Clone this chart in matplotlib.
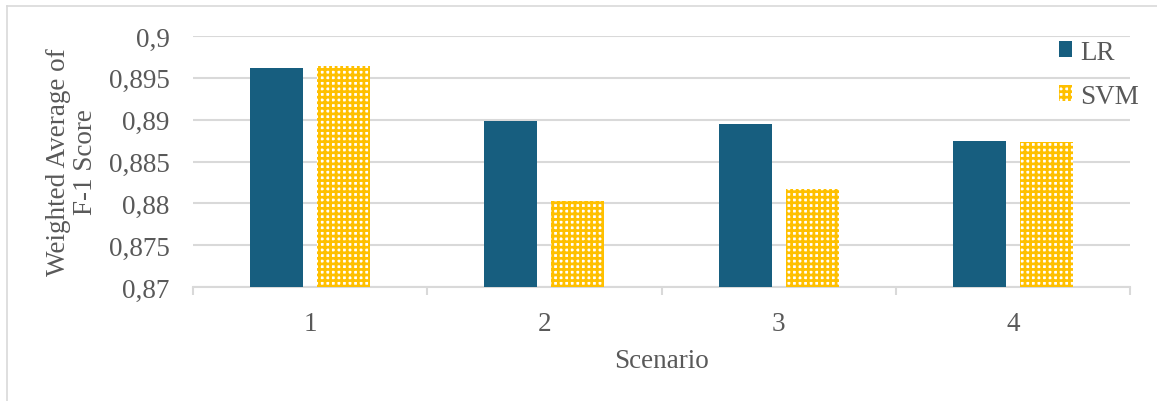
import matplotlib.pyplot as plt
import numpy as np
from matplotlib.lines import Line2D

# Data
scenarios = ["1", "2", "3", "4"]
lr_scores = [0.8962, 0.8898, 0.8895, 0.8875]
svm_scores = [0.8964, 0.8803, 0.8817, 0.8873]
y_ticks = [0.87, 0.875, 0.88, 0.885, 0.89, 0.895, 0.9]
y_tick_labels = ["0,87", "0,875", "0,88", "0,885", "0,89", "0,895", "0,9"]

TEXT = '#595959'
GRID = '#D9D9D9'
LR_COLOR = '#175E7F'
SVM_COLOR = '#FFC000'
FS = 19.5

plt.rcParams['font.family'] = ['Liberation Serif', 'DejaVu Serif']
plt.rcParams['hatch.linewidth'] = 2.0

fig = plt.figure(figsize=(11.57, 4.02), dpi=100)
ax = fig.add_axes([193 / 1157, 1 - 288 / 402, (1130 - 193) / 1157, (288 - 37) / 402])

x = np.arange(1, len(scenarios) + 1)
width = 0.227
offset = 0.143
ax.bar(x - offset, lr_scores, width, color=LR_COLOR, label='LR', zorder=3)
ax.bar(x + offset, svm_scores, width, color='white', edgecolor=SVM_COLOR,
       linewidth=0, hatch='+++', label='SVM', zorder=3)

ax.set_ylim(0.87, 0.9)
ax.set_xlim(0.5, 4.5)
ax.set_yticks(y_ticks)
ax.set_yticklabels(y_tick_labels)
ax.tick_params(axis='y', length=0, pad=17, labelsize=FS, labelcolor=TEXT)
ax.grid(axis='y', color=GRID, linewidth=1.5, zorder=0)

# category separators as major ticks, labels on minor ticks
ax.set_xticks(np.arange(0.5, 4.6, 1.0))
ax.set_xticklabels([])
ax.set_xticks(x, minor=True)
ax.set_xticklabels(scenarios, minor=True)
ax.tick_params(axis='x', which='major', length=6, width=1.5, color=GRID)
ax.tick_params(axis='x', which='minor', length=0, pad=17, labelsize=FS, labelcolor=TEXT)

for s in ['top', 'right', 'left']:
    ax.spines[s].set_visible(False)
ax.spines['bottom'].set_color(GRID)
ax.spines['bottom'].set_linewidth(1.5)

ax.set_xlabel('Scenario', fontsize=FS, color=TEXT, labelpad=9)
fig.text(72 / 1157, 1 - 162 / 402, 'Weighted Average of\nF-1 Score', rotation=90,
         ha='center', va='center', multialignment='center', fontsize=FS,
         color=TEXT, linespacing=1.15)

leg = ax.legend(loc='upper left', bbox_to_anchor=(1045 / 1157, 1 - 27 / 402),
                bbox_transform=fig.transFigure, frameon=False, fontsize=FS,
                handlelength=0.5, handleheight=0.5, handletextpad=0.3,
                labelspacing=0.7, borderpad=0)
for t in leg.get_texts():
    t.set_color(TEXT)

# light frame of the chart area (left and top edges)
fig.add_artist(Line2D([7 / 1157, 7 / 1157], [0, 1 - 7 / 402], transform=fig.transFigure,
                      color=GRID, linewidth=1.2))
fig.add_artist(Line2D([7 / 1157, 1], [1 - 7 / 402, 1 - 7 / 402], transform=fig.transFigure,
                      color=GRID, linewidth=1.2))

fig.savefig('out.png', dpi=100)
